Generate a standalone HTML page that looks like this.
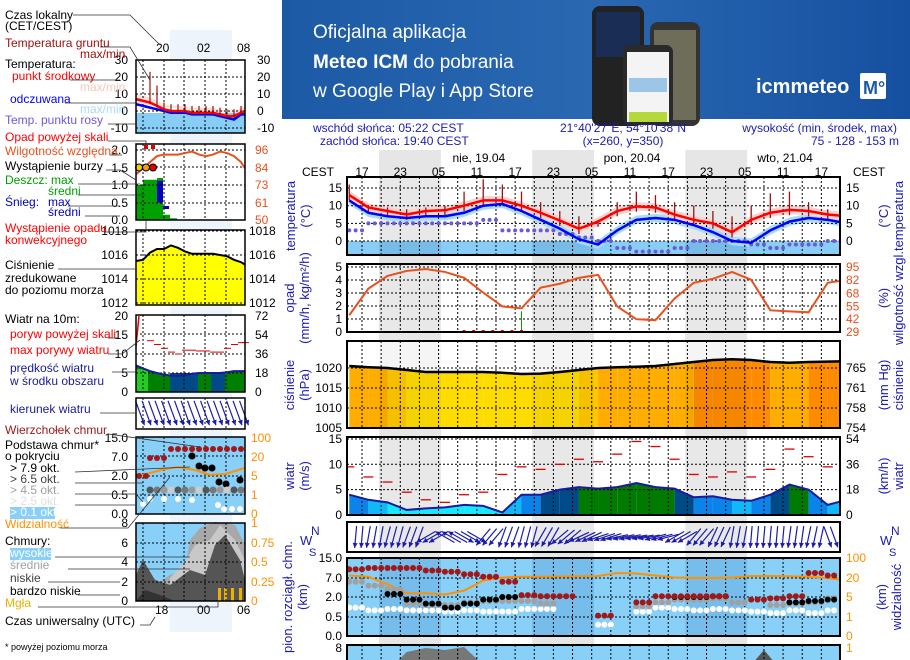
<!DOCTYPE html>
<html><head><meta charset="utf-8">
<style>
html,body{margin:0;padding:0;background:#fff;}
body{width:910px;height:660px;overflow:hidden;position:relative;font-family:"Liberation Sans",sans-serif;}
svg{position:absolute;left:0;top:0;}
text{font-family:"Liberation Sans",sans-serif;font-size:12px;}
</style></head><body>
<svg id="chart" width="910" height="660" viewBox="0 0 910 660">
<defs>
<linearGradient id="bg" x1="0" y1="0" x2="1" y2="0"><stop offset="0" stop-color="#1d5aa6"/><stop offset="0.5" stop-color="#2a68b2"/><stop offset="1" stop-color="#1550a0"/></linearGradient>
<clipPath id="plotclip"><rect x="347" y="150" width="493" height="520"/></clipPath>
</defs>
<g>
<rect x="282" y="0" width="628" height="119" fill="url(#bg)"/>
<text x="313" y="38" fill="#fff" style="font-size:19px">Oficjalna aplikacja</text>
<text x="313" y="68" fill="#fff" style="font-size:19px;font-weight:bold">Meteo ICM <tspan font-weight="normal">do pobrania</tspan></text>
<text x="313" y="97" fill="#fff" style="font-size:19px">w Google Play i App Store</text>
<rect x="592" y="6" width="52" height="120" rx="8" fill="#222"/>
<rect x="596" y="12" width="44" height="45" fill="#1a2e55"/>
<rect x="650" y="22" width="50" height="104" rx="8" fill="#333"/>
<rect x="654" y="30" width="42" height="90" fill="#6d6d5a"/>
<rect x="623" y="45" width="50" height="80" rx="7" fill="#2a2a2a"/>
<rect x="627" y="52" width="42" height="70" fill="#f4f4f4"/>
<rect x="629" y="78" width="38" height="14" fill="#9bc6e8"/>
<rect x="629" y="112" width="38" height="10" fill="#b6d83a"/>
<text x="756" y="93" fill="#fff" style="font-size:20px;font-weight:bold">icmmeteo</text>
<rect x="860" y="73" width="26" height="26" rx="2" fill="#fff"/>
<text x="863" y="94" fill="#1d5aa6" style="font-size:18px;font-weight:bold">M°</text>
</g>
<g id="left"></g>
<g id="main"></g>
</svg>
<script>
// ---------- main chart data (3-hourly, hours from 00:00 day 0) ----------
const hours = [15,18,21,24,27,30,33,36,39,42,45,48,51,54,57,60,63,66,69,72,75,78,81,84,87,90,93];
const tempMid = [13,9.5,8.5,7.5,8.5,8.7,10,11.5,11.5,10,8,5.8,3.5,5.5,8.5,9.8,9.5,7.5,6,5,2.5,6,8,8.8,8.5,7.5,7];
const tempFeel = [11.5,8,7,6.5,7,7,8,10,10.5,8.5,6,3.5,0.5,-1,3,6,6.5,6,4.5,2.5,0,-0.5,3,5.5,6.5,6,5];
const dewPoint = [3,5,5,5,5,5,5,6,3,3,3,2,1,0,-2,-3,-3,-2,0,0,0,-1,-2,-1,-1,0,1];
const groundMax = [16,10,9.5,9,9.5,10,14,17.5,16,14,11,8.5,7,6,11,14,13,11,10,8.5,7,10,13.5,14,11,9,8];
const humidity = [46,73,86,91,93,90,84,69,55,53,74,78,84,87,55,42,41,63,79,83,90,82,51,50,49,79,82];
const pressure = [1020.5,1020.2,1020,1019.5,1019,1019,1019,1019,1018.8,1018.5,1018.6,1019,1019.5,1020,1020.2,1020.3,1020.5,1021,1021.5,1022,1022.2,1022,1021.5,1021.3,1021.5,1021.6,1021.7];
const windSpeed = [4,3,2.5,1,1.3,1.5,2,1.8,0.5,4,4,5,5.5,5.2,5.5,6.3,5.5,5.2,3.5,3.7,3,2.8,4,6,5,2,3];
const windGust = [9.5,7.5,6.5,4.5,3,2.5,4,4.5,8,9.5,9,10,11,10.5,12,14.5,13.5,11,8,7.5,8.5,7.5,9,13,11.5,9.5,8];
const windDir = [5,10,15,20,60,120,300,40,20,15,30,50,65,72,78,80,75,60,40,25,10,5,5,8,12,340,330];
const visibility = [30,25,15,8,8,7,10,18,22,25,25,26,27,28,40,38,30,22,20,20,22,28,28,27,25,20,18];
const cloudTop = [10.5,11,11,11,10,9.5,8.5,7.5,6,2.5,2.2,2.2,null,0.6,null,1.6,2.2,2.2,2.2,2.2,null,1.8,1.9,2.2,9,8,8];
const cloudBaseDark = [null,null,2.8,1.8,1.5,1.2,1.5,1.8,2,null,null,null,null,null,null,null,null,2,2,2.2,null,null,null,1.6,1.7,1.8,1.8];
const cloudBaseGrey = [6,5,4,1.5,1.4,1.4,1.6,1.7,1.7,1.7,1.5,null,null,null,null,1.3,1.6,1.8,1.8,1.9,1.6,null,1.4,1.5,1.6,1.9,1.9];
const cloudLow = [1.2,1.0,1.1,1.0,1.0,0.9,1.0,0.9,0.9,1.1,1.1,null,null,0.3,null,0.9,1.2,1.1,1.0,1.1,1.0,0.9,0.8,1.0,0.8,1.0,1.0];
const hourTicks = ['17','23','05','11','17','23','05','11','17','23','05','11','17'];
const dayLabels = ['nie, 19.04','pon, 20.04','wto, 21.04'];
const tempTicks = [15,10,5,0];
const opadTicks = [5,4,3,2,1,0];
const humTicks = [95,82,68,55,42,29];
const presTicks = [1020,1015,1010,1005];
const presHgTicks = ['765','761','758','754'];
const windTicks = [15,10,5,0];
const windKmTicks = ['54','36','18','0'];
const cloudTicks = ['0.0','0.5','2.0','7.0','15.0'];
const visTicks = ['0','1','5','20','100'];

const NS='http://www.w3.org/2000/svg';
function el(parent,tag,attrs,txt){const e=document.createElementNS(NS,tag);for(const k in attrs)e.setAttribute(k,attrs[k]);if(txt!==undefined)e.textContent=txt;parent.appendChild(e);return e;}
const main=document.getElementById('main');
const L=347,R=840;
const X=h=>362+(h-17)*6.38;
const yT=v=>241-v*3.53;
const yO=v=>332-v*13;
const yH=p=>yO((p-29)/13.2);
const yP=p=>368-(p-1020)*4;
const yW=v=>515-v*5.07;
const CKM=[0,0.5,2,7,15],CY=[636,617,597,578,558];
const VIS=[0,1,5,20,100];
function pw(v,sc){for(let i=0;i<sc.length-1;i++){if(v<=sc[i+1]){return CY[i]+(v-sc[i])/(sc[i+1]-sc[i])*(CY[i+1]-CY[i]);}}return CY[CY.length-1];}
const yC=v=>pw(v,CKM), yV=v=>pw(v,VIS);
const navy='#1c1cb0';

const hdr=[['wschód słońca: 05:22 CEST',313,132,'start'],['zachód słońca: 19:40 CEST',320,145,'start'],['21°40\'27"E, 54°10\'38"N',623,132,'middle'],['(x=260,  y=350)',623,145,'middle'],['wysokość (min, środek, max)',897,132,'end'],['75 - 128 - 153 m',855,145,'middle']];
hdr.forEach(t=>{const e=el(main,'text',{x:t[1],y:t[2],'text-anchor':t[3],fill:navy},t[0]);});

const sunset=19.67,sunrise=29.37;
for(let k=0;k<3;k++){const a=X(sunset+24*k),b=Math.min(X(sunrise+24*k),R);
 const r=el(main,'rect',{x:a,y:150,width:b-a,height:510,fill:'#e6e6e6'});
 
 }

hourTicks.forEach((t,i)=>{const e=el(main,'text',{x:X(17+6*i),y:176,'text-anchor':'middle',fill:'#000'},t);
 
 });
dayLabels.forEach((t,i)=>{const e=el(main,'text',{x:X(35+24*i)+2,y:162,'text-anchor':'middle',fill:'#000'},t);
 
 });
el(main,'text',{x:302,y:176,fill:'#000'},'CEST');
el(main,'text',{x:853,y:176,fill:'#000'},'CEST');

const plot=el(main,'g',{'clip-path':'url(#plotclip)'});
function frame(top,bot,bg,name){const r=el(plot,'rect',{x:L,y:top,width:R-L,height:bot-top,fill:bg});return r;}
function nightOverlay(top,bot,col){for(let k=0;k<3;k++){const a=X(sunset+24*k),b=Math.min(X(sunrise+24*k),R);el(plot,'rect',{x:a,y:top,width:b-a,height:bot-top,fill:col});}}
function grid(top,bot,ys){const g=el(plot,'g',{stroke:'#000','stroke-width':1,'stroke-dasharray':'2,2',fill:'none'});
 for(let h=17;X(h)<R;h+=3){if(X(h)>L)el(g,'line',{x1:X(h),y1:top,x2:X(h),y2:bot});}
 ys.forEach(y=>{if(y>top+1&&y<bot-1)el(g,'line',{x1:L,y1:y,x2:R,y2:y});});}
function border(top,bot){el(main,'rect',{x:L,y:top,width:R-L,height:bot-top,fill:'none',stroke:'#000','stroke-width':2});}
function ticksL(vals,yf,col,x){vals.forEach(v=>{el(main,'text',{x:x||342,y:yf(v)+4,'text-anchor':'end',fill:col||'#000'},v);});}
function ticksR(labels,ys,col){labels.forEach((t,i)=>{el(main,'text',{x:846,y:ys[i]+4,fill:col||'#000'},t);});}
function rotLabel(x,y,lines,col,name){const e=el(main,'text',{transform:`translate(${x},${y}) rotate(-90)`,'text-anchor':'middle',fill:col||navy,style:'font-size:13px'});
 lines.forEach((ln,i)=>{el(e,'tspan',{x:0,dy:i?15:0},ln);});}
const line=(pts,attrs)=>el(plot,'polyline',Object.assign({points:pts.map(p=>p.join(',')).join(' '),fill:'none'},attrs));

// temperature
frame(177,255,'#fff','temperature-panel');
nightOverlay(177,255,'#e8e8e8');
el(plot,'rect',{x:L,y:yT(0),width:R-L,height:255-yT(0),fill:'#88cdf6'});
nightOverlay(yT(0),255,'rgba(0,60,140,0.12)');
const band=(arr,d,col)=>{const up=hours.map((h,i)=>[X(h),yT(arr[i]+d)]),dn=hours.map((h,i)=>[X(h),yT(arr[i]-d)]).reverse();el(plot,'polygon',{points:up.concat(dn).map(p=>p.join(',')).join(' '),fill:col});};
band(tempFeel,1.2,'#a8dcf8');
band(tempMid,1.2,'#fbd2cf');
grid(177,255,tempTicks.map(yT));
hours.forEach((h,i)=>{const m=el(plot,'line',{x1:X(h),y1:yT(tempMid[i]-1.5),x2:X(h),y2:yT(groundMax[i]),stroke:'#a01010','stroke-width':1.3});
 
 });
hours.forEach((h,i)=>{for(let k=0;k<3;k++){const c=el(plot,'circle',{cx:X(h+k),cy:yT(dewPoint[i]),r:2,fill:'#6a5ad8'});
 
 }});
const feelLine=line(hours.map((h,i)=>[X(h),yT(tempFeel[i])]),{stroke:'#0000ff','stroke-width':2.5});


const midLine=line(hours.map((h,i)=>[X(h),yT(tempMid[i])]),{stroke:'#ff0000','stroke-width':2.5});


border(177,255);
ticksL(tempTicks,yT);ticksR(tempTicks.map(String),tempTicks.map(yT));
rotLabel(295,216,['temperatura','(°C)'],navy,'y-axis-title-temp');
rotLabel(888,216,['(°C)','temperatura'],navy,'y2-axis-title-temp');

// precipitation / humidity
frame(264,332,'#fff','precip-panel');
nightOverlay(264,332,'#e8e8e8');
grid(264,332,opadTicks.map(yO));
el(plot,'line',{x1:X(42),y1:yO(0),x2:X(42),y2:yO(1.6),stroke:'#00a000','stroke-width':1});
for(let h=33;h<=42;h+=1.5){el(plot,'rect',{x:X(h)-1.5,y:yO(0)-2,width:3,height:3,fill:'#ff0000'});}
const humLine=line(hours.map((h,i)=>[X(h),yH(humidity[i])]),{stroke:'#e8501e','stroke-width':2});


border(264,332);
ticksL(opadTicks,yO);ticksR(humTicks.map(String),humTicks.map(yH),'#e8501e');
rotLabel(294,298,['opad','(mm/h, kg/m²/h)'],navy,'y-axis-title-precip');
rotLabel(888,298,['(%)','wilgotność wzgl.'],navy,'y2-axis-title-humidity');

// pressure
frame(341,428,'#fff','pressure-panel');
const pcol=p=>p>=1021.5?'#ff8c00':p>=1020?'#ffae00':p>=1019.3?'#ffc800':'#ffdc00';
for(let i=0;i<hours.length-1;i++){const x1=X(hours[i]),x2=X(hours[i+1]);
 const s=el(plot,'polygon',{points:`${x1},${yP(pressure[i])} ${x2},${yP(pressure[i+1])} ${x2},428 ${x1},428`,fill:pcol((pressure[i]+pressure[i+1])/2)});
 
 }
nightOverlay(341,428,'rgba(0,0,0,0.04)');
grid(341,428,presTicks.map(yP));
const pLine=line(hours.map((h,i)=>[X(h),yP(pressure[i])]),{stroke:'#000','stroke-width':2.5});


border(341,428);
ticksL(presTicks,yP);ticksR(presHgTicks,presTicks.map(yP));
rotLabel(294,385,['ciśnienie','(hPa)'],navy,'y-axis-title-pressure');
rotLabel(888,385,['(mm Hg)','ciśnienie'],navy,'y2-axis-title-pressure');

// wind
frame(437,515,'#fff','wind-panel');
nightOverlay(437,515,'#e8e8e8');
const wcol=v=>v<2?'#18e8ff':v<3.2?'#10b8f8':v<4.3?'#0a84e8':v<5.3?'#004a88':v<6?'#007a00':'#22cc22';
for(let i=0;i<hours.length-1;i++){const x1=X(hours[i]),x2=X(hours[i+1]);
 const s=el(plot,'polygon',{points:`${x1},${yW(windSpeed[i])} ${x2},${yW(windSpeed[i+1])} ${x2},515 ${x1},515`,fill:wcol((windSpeed[i]+windSpeed[i+1])/2)});
 
 }
grid(437,515,windTicks.map(yW));
const wLine=line(hours.map((h,i)=>[X(h),yW(windSpeed[i])]),{stroke:'#1a1a9a','stroke-width':2});


hours.forEach((h,i)=>{const g=el(plot,'line',{x1:X(h)-5,y1:yW(windGust[i]),x2:X(h)+5,y2:yW(windGust[i]),stroke:'#e00000','stroke-width':1.3});
 
 });
border(437,515);
ticksL(windTicks,yW);ticksR(windKmTicks,windTicks.map(yW));
rotLabel(294,476,['wiatr','(m/s)'],navy,'y-axis-title-wind');
rotLabel(888,476,['(km/h)','wiatr'],navy,'y2-axis-title-wind');

// wind direction
frame(522,552,'#fff','wind-direction-panel');
nightOverlay(522,552,'#e8e8e8');
function arrow(g,cx,cy,dir,len){const t=(dir+180)*Math.PI/180,dx=Math.sin(t),dy=-Math.cos(t);
 const x1=cx-dx*len/2,y1=cy-dy*len/2,x2=cx+dx*len/2,y2=cy+dy*len/2;
 el(g,'line',{x1,y1,x2,y2,stroke:'#1c1caa','stroke-width':1.2});
 const px=-dy,py=dx;el(g,'polygon',{points:`${x2},${y2} ${x2-dx*5+px*2.5},${y2-dy*5+py*2.5} ${x2-dx*5-px*2.5},${y2-dy*5-py*2.5}`,fill:'#1c1caa'});}
const ag=el(plot,'g',{});
hours.forEach((h,i)=>{for(let k=0;k<3;k++){const x=X(h+k);if(x<L+3||x>R-2)continue;const a=el(ag,'g',{});
 
 
 arrow(a,x,537,windDir[i],22);}});
border(522,552);
el(main,'text',{x:300,y:545,fill:navy,style:'font-size:13px'},'W');el(main,'text',{x:311,y:535,fill:navy,style:'font-size:12px'},'N');el(main,'text',{x:309,y:556,fill:navy,style:'font-size:11px'},'S');
el(main,'text',{x:880,y:545,fill:navy,style:'font-size:13px'},'W');el(main,'text',{x:891,y:535,fill:navy,style:'font-size:12px'},'N');el(main,'text',{x:889,y:556,fill:navy,style:'font-size:11px'},'S');

// clouds
frame(558,636,'#88d0f8','cloud-panel');
nightOverlay(558,636,'rgba(0,60,160,0.12)');
grid(558,636,CY);
const visLine=line(hours.map((h,i)=>[X(h),yV(visibility[i])]),{stroke:'#ff9000','stroke-width':2});


function dots(arr,col,name){hours.forEach((h,i)=>{if(arr[i]==null)return;for(let k=0;k<3;k++){const x=X(h+k);if(x<L+2||x>R-2)continue;
 const c=el(plot,'circle',{cx:x,cy:yC(arr[i]),r:3,fill:col});
 
 }});}
dots(cloudLow,'#ffffff','cloud-base-low');
dots(cloudBaseGrey,'#a0a0a0','cloud-base-mid');
dots(cloudBaseDark,'#000000','cloud-base-dense');
dots(cloudTop,'#a01818','cloud-top');
border(558,636);
cloudTicks.forEach((t,i)=>el(main,'text',{x:342,y:CY[i]+4,'text-anchor':'end',fill:'#000'},t));
ticksR(visTicks,CY,'#ff9000');
rotLabel(292,597,['pion. rozciągł. chm.','(km)'],navy,'y-axis-title-cloud');
rotLabel(886,597,['(km)','widzialność'],navy,'y2-axis-title-visibility');

// bottom cloud cover panel
frame(645,665,'#88d0f8','cloud-cover-panel');
el(plot,'polygon',{points:`${X(22)},665 ${X(24)},652 ${X(27)},648 ${X(30)},650 ${X(33)},647 ${X(36)},665`,fill:'#777'});
el(plot,'polygon',{points:`${X(78)},665 ${X(80)},650 ${X(82)},665`,fill:'#555'});
grid(645,665,[]);
border(645,665);
el(main,'text',{x:342,y:652,'text-anchor':'end'},'8');
el(main,'text',{x:846,y:652,fill:'#ff9000'},'1');

// ---------- left legend ----------
const lg=document.getElementById('left');
function lt(t,x,y,col,extra){const e=el(lg,'text',Object.assign({x,y,fill:col||'#000'},extra||{}),t);return e;}
el(lg,'rect',{x:170,y:30,width:62,height:602,fill:'#eef4fc'});
const LL=136,LR=245;
const mX=[136,143,150,157,164,171,178,185,192,199,206,213,220,227,234,241,245];
const miniTempMid=[7,6,5,3,1,0,0,0,-1,-1,-1,-1,-2,-3,-3,-1,0];
const miniTempFeel=[4,3,2,1,0,-1,-1,-1,-2,-2,-2,-2,-3,-4,-5,-2,-2];
const miniHum=[80,84,88,92,93,93,93,94,95,93,92,93,95,94,92,88,84];
const miniPres=[1015.5,1015.6,1016.2,1016.5,1016.5,1016.8,1016.6,1016.3,1016.1,1016.1,1016.1,1016.1,1016,1015.9,1015.6,1015.4,1015.2];
const miniWind=[7,6.2,5.5,5,4.6,4.3,4.2,4.5,4.8,5,5,5,5,5.2,5.5,5.5,5.5];
const miniGust=[20,16,13.5,12.5,11.5,10.5,10,11,11,10.8,10.8,10.5,10.5,11.5,12.5,13,13];
const ytm=v=>111-v*1.7, yom=v=>220-v*35, yhm=p=>220-(p-50)*70/46, ypm=p=>303-(p-1012)*12, ywm=v=>392-v*3.8;
function mgrid(top,bot,ys){const g=el(lg,'g',{stroke:'#000','stroke-dasharray':'2,2'});[143,164,184,205,226].forEach(x=>el(g,'line',{x1:x,y1:top,x2:x,y2:bot}));ys.forEach(y=>el(g,'line',{x1:LL,y1:y,x2:LR,y2:y}));}
function mbox(top,bot){el(lg,'rect',{x:LL,y:top,width:LR-LL,height:bot-top,fill:'none',stroke:'#000','stroke-width':1.5});}
const mpoly=(ys,attrs)=>el(lg,'polyline',Object.assign({points:mX.map((x,i)=>x+','+ys[i]).join(' '),fill:'none'},attrs));
el(lg,'rect',{x:LL,y:60,width:109,height:73,fill:'#fff'});
el(lg,'polygon',{points:mX.map((x,i)=>x+','+ytm(miniTempMid[i]+3)).join(' ')+' 245,'+ytm(-2)+' 136,'+ytm(4),fill:'#fde0d8'});
el(lg,'rect',{x:LL,y:ytm(0)+2,width:109,height:133-ytm(0)-2,fill:'#88cdf6'});
mgrid(60,133,[60,77,94,111,128]);
mpoly(miniTempFeel.map(ytm),{stroke:'#0000ff','stroke-width':2.5});
mpoly(miniTempMid.map(ytm),{stroke:'#ff0000','stroke-width':2.5});
[150,157,164,171,178,185,192,199,206,213,220,227,234,241].forEach((x,i)=>el(lg,'line',{x1:x,y1:ytm(miniTempMid[i+2]-1),x2:x,y2:ytm(miniTempMid[i+2]+(i<2?18-i*6:4)),stroke:'#a01010','stroke-width':1.2}));
mbox(60,133);
[['30',60],['20',77],['10',94],['0',111],['-10',128]].forEach(t=>{lt(t[0],128,t[1]+4,'#000',{'text-anchor':'end'});lt(t[0],257,t[1]+4);});
el(lg,'rect',{x:LL,y:144,width:109,height:76,fill:'#fff'});
[[136,143,1.0],[143,157,1.15],[157,163,1.2],[163,170,0.15],[170,177,0.05]].forEach(b=>el(lg,'rect',{x:b[0],y:yom(b[2]),width:b[1]-b[0],height:220-yom(b[2]),fill:'#00a000'}));
el(lg,'rect',{x:157,y:yom(1.12),width:6,height:yom(0.5)-yom(1.12),fill:'#0000c0'});
el(lg,'rect',{x:163,y:yom(0.4),width:6,height:3,fill:'#0000c0'});
mgrid(144,220,[150,167,185,203]);
mpoly(miniHum.map(yhm),{stroke:'#e8501e','stroke-width':2});
[[139,yom(1.5),'#f0d000'],[146,yom(1.5),'#f0a000'],[153,yom(1.5),'#e00000']].forEach(c=>el(lg,'circle',{cx:c[0],cy:c[1],r:3.5,fill:c[2],stroke:'#000'}));
[146,153].forEach(x=>el(lg,'rect',{x:x-2,y:145,width:4,height:4,fill:'#e00000'}));
mbox(144,220);
[['2.0',150],['1.5',168],['1.0',185],['0.5',203],['0.0',220]].forEach(t=>lt(t[0],128,t[1]+4,'#000',{'text-anchor':'end'}));
[['96',150],['84',168],['73',185],['61',203],['50',220]].forEach(t=>lt(t[0],255,t[1]+4,'#e8501e'));
el(lg,'rect',{x:LL,y:230,width:109,height:75,fill:'#fff'});
el(lg,'polygon',{points:mX.map((x,i)=>x+','+ypm(miniPres[i])).join(' ')+' 245,305 136,305',fill:'#ffff00'});
mgrid(230,305,[231,255,279,303]);
mpoly(miniPres.map(ypm),{stroke:'#000','stroke-width':2});
mbox(230,305);
[['1018',231],['1016',255],['1014',279],['1012',303]].forEach(t=>{lt(t[0],128,t[1]+4,'#000',{'text-anchor':'end'});lt(t[0],249,t[1]+4);});
el(lg,'rect',{x:LL,y:315,width:109,height:77,fill:'#fff'});
el(lg,'polygon',{points:mX.map((x,i)=>x+','+ywm(miniWind[i])).join(' ')+' 245,392 136,392',fill:'#008000'});
el(lg,'rect',{x:170,y:ywm(5),width:28,height:392-ywm(5),fill:'#004a88'});
el(lg,'rect',{x:211,y:ywm(5),width:14,height:392-ywm(5),fill:'#004a88'});
el(lg,'rect',{x:136,y:ywm(6),width:12,height:392-ywm(6),fill:'#22cc22'});
mgrid(315,392,[334,354,373]);
mpoly(miniWind.map(ywm),{stroke:'#1a1a9a','stroke-width':2});
mX.forEach((x,i)=>{if(i>1)el(lg,'line',{x1:x-3,y1:ywm(miniGust[i]),x2:x+4,y2:ywm(miniGust[i]),stroke:'#e00000'});});
el(lg,'line',{x1:136,y1:346,x2:139,y2:316,stroke:'#e00000','stroke-width':1.5});
mbox(315,392);
[['20',316],['15',335],['10',354],['5',373],['0',392]].forEach(t=>lt(t[0],128,t[1]+4,'#000',{'text-anchor':'end'}));
[['72',316],['54',335],['36',354],['18',373],['0',392]].forEach(t=>lt(t[0],255,t[1]+4));
el(lg,'rect',{x:LL,y:398,width:109,height:31,fill:'#fff'});
mgrid(398,429,[]);
for(let x=140;x<=248;x+=6.5){arrow(lg,x,413,340,26);}
mbox(398,429);
el(lg,'rect',{x:LL,y:437,width:109,height:77,fill:'#88d0f8'});
mgrid(437,514,[456,476,495]);
el(lg,'polyline',{points:'136,477 150,473 165,469 178,467 195,470 210,475 225,474 245,468',fill:'none',stroke:'#ff9000','stroke-width':2});
[[139,476],[146,476]].forEach(c=>el(lg,'circle',{cx:c[0],cy:c[1],r:3,fill:'#a01818'}));
[150,157,164].forEach(x=>el(lg,'circle',{cx:x,cy:458,r:3,fill:'#a01818'}));
[171,178,185,192,199,206,213,220,227,234,241].forEach(x=>el(lg,'circle',{cx:x,cy:449,r:3,fill:'#a01818'}));
[[192,456],[199,466],[205,468],[212,468],[219,482],[226,484],[240,480]].forEach(c=>el(lg,'circle',{cx:c[0],cy:c[1],r:3.5,fill:'#000'}));
[150,157,164,171,178,185,192,199,206,213,220,227,234,241].forEach((x,i)=>el(lg,'circle',{cx:x,cy:490,r:3.5,fill:['#555','#777','#999','#ccc'][i%4]}));
[[143,504],[150,499],[164,499],[178,499],[192,500],[218,505],[224,509],[232,509],[240,509]].forEach(c=>el(lg,'circle',{cx:c[0],cy:c[1],r:3,fill:'#fff'}));
mbox(437,514);
[['15.0',438],['7.0',457],['2.0',476],['0.5',495],['0.0',514]].forEach(t=>lt(t[0],128,t[1]+4,'#000',{'text-anchor':'end'}));
[['100',438],['20',457],['5',476],['1',495],['0',514]].forEach(t=>lt(t[0],251,t[1]+4,'#ff9000'));
el(lg,'rect',{x:LL,y:523,width:109,height:78,fill:'#88d0f8'});
el(lg,'polygon',{points:'136,601 136,570 143,565 150,576 160,582 170,575 185,570 190,540 200,528 215,522 235,525 245,545 245,601',fill:'#a8a8a8'});
el(lg,'polygon',{points:'170,601 170,578 185,562 195,545 210,540 220,525 235,540 245,560 245,601',fill:'#c8c8c8'});
el(lg,'polygon',{points:'136,601 136,575 143,560 155,580 170,585 190,570 205,575 215,545 225,535 240,560 245,580 245,601',fill:'#555'});
el(lg,'polygon',{points:'136,601 145,590 160,595 175,601',fill:'#333'});
[218,224,231,239].forEach(x=>el(lg,'rect',{x,y:588,width:3,height:13,fill:'#f0b000'}));
mgrid(523,601,[543,562,582]);
mbox(523,601);
[['8',523],['6',543],['4',562],['2',582],['0',601]].forEach(t=>lt(t[0],128,t[1]+4,'#000',{'text-anchor':'end'}));
[['1',523],['0.75',543],['0.5',562],['0.25',582],['0',601]].forEach(t=>lt(t[0],251,t[1]+4,'#ff9000'));
const texts=[
['Czas lokalny',5,19,'#000'],['(CET/CEST)',5,30,'#000'],['20',156,52,'#000'],['02',197,52,'#000'],['08',237,52,'#000'],
['Temperatura gruntu',5,47,'#a01010'],['max/min',80,58,'#a01010'],['Temperatura:',5,68,'#000'],['punkt środkowy',12,80,'#ff0000'],
['max/min',80,91,'#f4c8b8'],['odczuwana',10,103,'#0000ff'],['max/min',80,113,'#a8dcf8'],['Temp. punktu rosy',5,124,'#6a5ad8'],
['Opad powyżej skali',5,141,'#ff0000'],['Wilgotność względna',5,155,'#e8501e'],['Wystąpienie burzy',5,170,'#000'],
['Deszcz: max',5,184,'#00a000'],['średni',48,195,'#00a000'],['Śnieg:',5,206,'#0000c0'],['max',48,206,'#0000c0'],['średni',48,216,'#0000c0'],
['Wystąpienie opadu',5,232,'#ff0000'],['konwekcyjnego',5,244,'#ff0000'],['Ciśnienie',5,269,'#000'],['zredukowane',5,282,'#000'],['do poziomu morza',5,294,'#000'],
['Wiatr na 10m:',5,323,'#000'],['poryw powyżej skali',10,338,'#ff0000'],['max porywy wiatru',10,354,'#ff0000'],['prędkość wiatru',10,372,'#1a1a9a'],['w środku obszaru',10,385,'#1a1a9a'],
['kierunek wiatru',10,413,'#1a1a9a'],['Wierzchołek chmur',5,434,'#a01818'],['Podstawa chmur*',5,449,'#000'],['o pokryciu',5,460,'#000'],
['> 7.9 okt.',10,472,'#000'],['> 6.5 okt.',10,483,'#404040'],['> 4.5 okt.',10,494,'#a0a0a0'],['> 2.5 okt.',10,505,'#e0e0e0'],
['Widzialność',5,528,'#ff9000'],['Chmury:',5,545,'#000'],['średnie',10,569,'#a0a0a0'],['niskie',10,582,'#404040'],['bardzo niskie',10,595,'#000'],['Mgła',5,607,'#f0b000'],
['Czas uniwersalny (UTC)',5,625,'#000'],['18',155,614,'#000'],['00',197,614,'#000'],['06',237,614,'#000']];
el(lg,'rect',{x:10,y:507,width:45,height:12,fill:'#88d0f8'});
el(lg,'rect',{x:10,y:548,width:41,height:12,fill:'#88d0f8'});
texts.forEach(t=>{const e=lt(t[0],t[1],t[2],t[3]);});
lt('> 0.1 okt.',10,516,'#fff');lt('wysokie',10,557,'#fff');
lt('* powyżej poziomu morza',5,650,'#000',{style:'font-size:9px'});
const leaders=[[73,15,130,15,160,45],[100,47,130,47,150,80],[70,80,120,80],[65,103,136,103],[108,124,136,124],[108,141,146,141,146,145],[110,155,122,155],[106,170,120,170,136,180],[78,184,140,184],[78,195,145,195],[68,206,120,206],[85,216,120,216],[105,232,146,232,146,220],[58,269,136,269],[108,338,118,338],[108,354,122,354,140,340],[112,372,136,372],[100,413,136,413],[108,434,200,447],[75,472,190,467],[75,483,143,483],[75,494,136,494,143,502],[75,505,136,505],[60,528,128,528,170,477],[55,557,190,557],[68,569,190,569],[48,582,120,582],[78,595,120,595],[38,607,218,607,218,601],[140,625,150,625,155,617]];
leaders.forEach(p=>{let pts=[];for(let i=0;i<p.length;i+=2)pts.push(p[i]+','+p[i+1]);el(lg,'polyline',{points:pts.join(' '),fill:'none',stroke:'#333','stroke-width':0.8});});
</script>
</body></html>
